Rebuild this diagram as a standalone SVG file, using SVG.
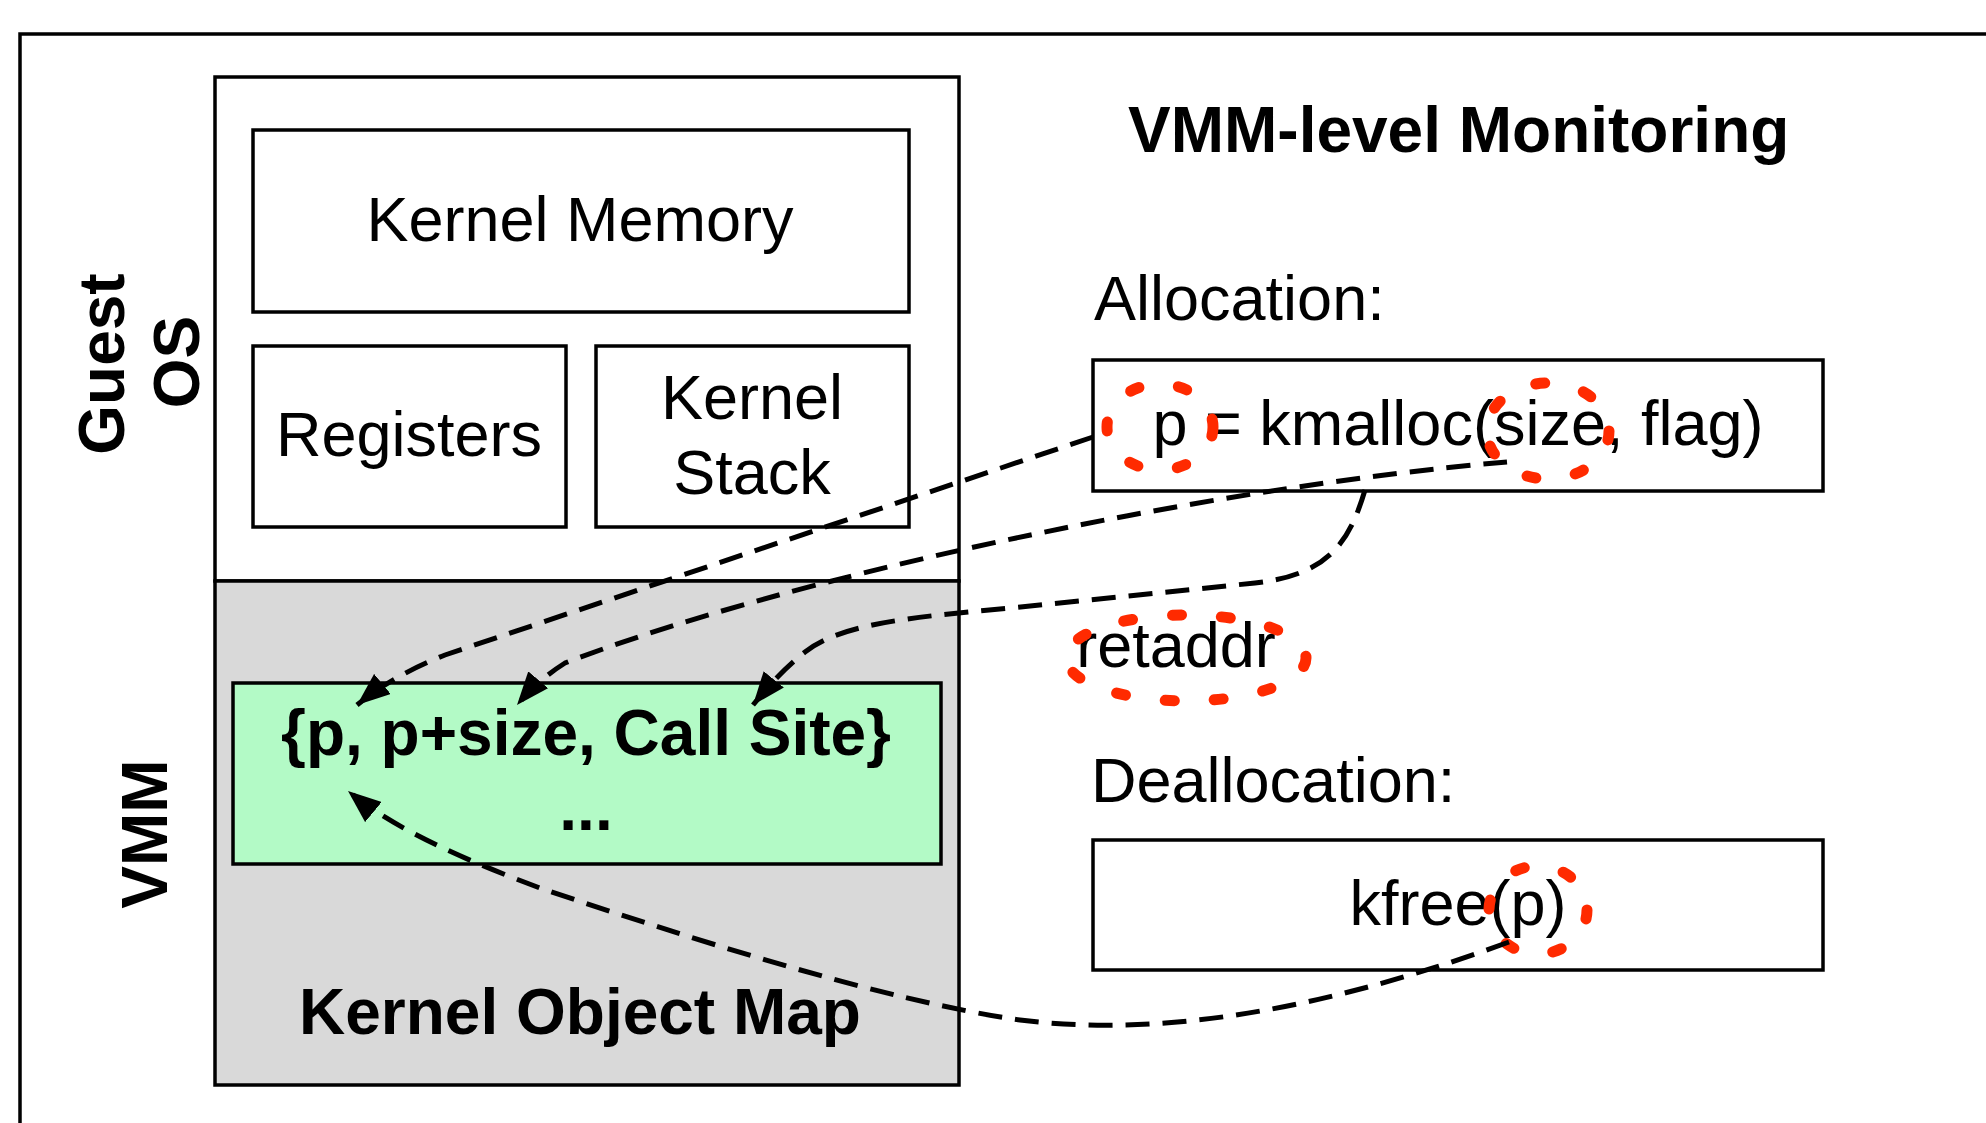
<svg xmlns="http://www.w3.org/2000/svg" width="1986" height="1123" viewBox="0 0 1986 1123">
  <style>
    .box { fill: #ffffff; stroke: #000000; stroke-width: 3.5; }
    .t { font-family: "Liberation Sans", Arial, sans-serif; font-size: 63px; fill: #000000; }
    .b { font-family: "Liberation Sans", Arial, sans-serif; font-size: 64px; font-weight: bold; fill: #000000; }
    .mid { text-anchor: middle; }
    .conn { fill: none; stroke: #000000; stroke-width: 5; stroke-dasharray: 24 13; marker-end: url(#arrow); }
    .mark { fill: none; stroke: #ff2a00; stroke-width: 11; stroke-linecap: round; stroke-dasharray: 9 40; }
  </style>
  <defs>
    <marker id="arrow" markerUnits="userSpaceOnUse" viewBox="0 0 33 26" refX="33" refY="13" markerWidth="33" markerHeight="26" orient="auto">
      <path d="M0,0 L33,13 L0,26 z" fill="#000000"/>
    </marker>
  </defs>

  <rect width="1986" height="1123" fill="#ffffff"/>

  <!-- outer frame, running past the right and bottom edges -->
  <rect x="20" y="34" width="2000" height="1200" fill="none" stroke="#000000" stroke-width="3.5"/>

  <!-- side labels -->
  <g id="label-guest-os">
    <text class="b mid" transform="translate(124,364) rotate(-90)">Guest</text>
    <text class="b mid" transform="translate(199,362) rotate(-90)">OS</text>
  </g>
  <g id="label-vmm">
    <text class="b mid" transform="translate(167,834) rotate(-90)">VMM</text>
  </g>

  <!-- guest OS area -->
  <g id="guest-os">
    <rect class="box" x="215" y="77" width="744" height="504"/>
  </g>
  <g id="kernel-memory">
    <rect class="box" x="253" y="130" width="656" height="182"/>
    <text class="t mid" x="580" y="241">Kernel Memory</text>
  </g>
  <g id="registers">
    <rect class="box" x="253" y="346" width="313" height="181"/>
    <text class="t mid" x="409" y="456">Registers</text>
  </g>
  <g id="kernel-stack">
    <rect class="box" x="596" y="346" width="313" height="181"/>
    <text class="t mid" x="752" y="419">Kernel</text>
    <text class="t mid" x="752" y="494">Stack</text>
  </g>

  <!-- VMM area -->
  <g id="vmm">
    <rect x="215" y="581" width="744" height="504" fill="#d9d9d9" stroke="#000000" stroke-width="3.5"/>
    <text class="b mid" x="580" y="1034">Kernel Object Map</text>
  </g>
  <g id="object-map">
    <rect x="233" y="683" width="708" height="181" fill="#b3fac6" stroke="#000000" stroke-width="3.5"/>
    <text class="b mid" x="586" y="755">{p, p+size, Call Site}</text>
    <text class="b mid" x="586" y="830">...</text>
  </g>

  <!-- monitoring side -->
  <g id="title">
    <text class="b" x="1128" y="152">VMM-level Monitoring</text>
  </g>
  <g id="allocation">
    <text class="t" x="1094" y="320">Allocation:</text>
    <rect class="box" x="1093" y="360" width="730" height="131"/>
    <text class="t mid" x="1458" y="445">p = kmalloc(size, flag)</text>
  </g>
  <g id="retaddr">
    <text class="t mid" x="1176" y="667">retaddr</text>
  </g>
  <g id="deallocation">
    <text class="t" x="1091" y="802">Deallocation:</text>
    <rect class="box" x="1093" y="840" width="730" height="130"/>
    <text class="t mid" x="1458" y="925">kfree(p)</text>
  </g>

  <!-- highlighted arguments and return address -->
  <g id="highlights">
    <ellipse class="mark" cx="1160" cy="427" rx="53" ry="43"/>
    <ellipse class="mark" cx="1548" cy="431" rx="61" ry="48"/>
    <ellipse class="mark" cx="1186" cy="658" rx="120" ry="43"/>
    <ellipse class="mark" cx="1538" cy="910" rx="49" ry="44"/>
  </g>

  <!-- connectors -->
  <g id="connectors">
    <path class="conn" d="M1093,437 L445,655 Q392,676 357,705"/>
    <path class="conn" d="M1507,462 C1200,488 780,580 565,663 Q538,680 517,705"/>
    <path class="conn" d="M1365,490 C1350,540 1330,575 1255,583 L1010,608 C900,618 840,625 805,652 C785,668 770,684 753,705"/>
    <path class="conn" d="M1509,942 C1350,1000 1180,1040 1020,1020 C880,1000 680,935 540,888 C470,862 395,830 348,791"/>
  </g>
</svg>
